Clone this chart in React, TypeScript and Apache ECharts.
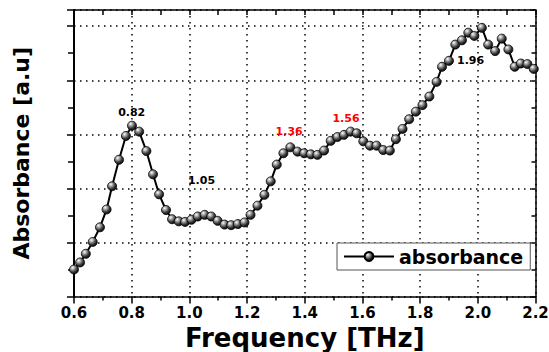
import React, { useEffect, useRef } from "react";
import * as echarts from "echarts";

const freq = [
  0.600, 0.621, 0.641, 0.665, 0.690, 0.713, 0.732, 0.756, 0.780, 0.801,
  0.826, 0.851, 0.874, 0.895, 0.919, 0.940, 0.963, 0.985, 1.007, 1.029,
  1.053, 1.076, 1.098, 1.122, 1.145, 1.168, 1.191, 1.212, 1.236, 1.260,
  1.282, 1.303, 1.326, 1.350, 1.375, 1.398, 1.421, 1.444, 1.467, 1.490,
  1.513, 1.536, 1.559, 1.580, 1.603, 1.626, 1.649, 1.672, 1.695, 1.716,
  1.739, 1.762, 1.785, 1.808, 1.832, 1.857, 1.876, 1.900, 1.922, 1.945,
  1.967, 1.988, 2.014, 2.036, 2.060, 2.083, 2.106, 2.128, 2.149, 2.172,
  2.194,
];

const absorbance = [
  0.50, 0.63, 0.79, 1.01, 1.28, 1.61, 2.04, 2.53, 2.97, 3.16,
  3.05, 2.69, 2.26, 1.89, 1.60, 1.43, 1.39, 1.38, 1.42, 1.48,
  1.51, 1.48, 1.40, 1.33, 1.32, 1.34, 1.37, 1.51, 1.68, 1.88,
  2.13, 2.44, 2.65, 2.76, 2.68, 2.65, 2.63, 2.62, 2.70, 2.88,
  2.95, 2.99, 3.05, 3.02, 2.87, 2.79, 2.79, 2.71, 2.70, 2.91,
  3.10, 3.28, 3.42, 3.54, 3.70, 3.97, 4.25, 4.36, 4.66, 4.74,
  4.88, 4.82, 4.97, 4.66, 4.54, 4.77, 4.57, 4.25, 4.31, 4.30,
  4.21,
];

const annotationLabels = ["0.82", "1.05", "1.36", "1.56", "1.96"];
const annotationX = [0.800, 1.042, 1.346, 1.543, 1.975];
const annotationY = [3.40, 2.14, 3.05, 3.30, 4.37];
const annotationColors = ["#000000", "#000000", "#ff0000", "#ff0000", "#000000"];

const xMin = 0.6;
const xMax = 2.2;
const xInterval = 0.2;
const yMin = 0;
const yMax = 5.3;
const yInterval = 1;

const FONT = "DejaVu Sans";

export default function App() {
  const ref = useRef<HTMLDivElement>(null);

  useEffect(() => {
    if (!ref.current) return;
    const chart = echarts.init(ref.current, null, { renderer: "svg" });

    const sphere = new echarts.graphic.RadialGradient(0.35, 0.3, 0.75, [
      { offset: 0, color: "#ffffff" },
      { offset: 0.25, color: "#b0b0b0" },
      { offset: 0.65, color: "#3a3a3a" },
      { offset: 1, color: "#050505" },
    ]);

    const dotted = { color: "#000", width: 1.5, type: [1.5, 4.5] as any };

    const option: any = {
      animation: false,
      backgroundColor: "#ffffff",
      grid: {
        left: 74,
        right: 13.5,
        top: 10,
        bottom: 55.5,
        containLabel: false,
        outerBoundsMode: "none",
      },
      legend: {
        data: ["absorbance"],
        left: 337,
        top: 243,
        orient: "horizontal",
        backgroundColor: "#ffffff",
        borderColor: "#555555",
        borderWidth: 1,
        padding: [4, 7, 4, 6],
        itemWidth: 50,
        itemHeight: 11,
        itemGap: 0,
        textStyle: {
          fontFamily: FONT,
          fontWeight: "bold",
          fontSize: 19,
          color: "#000",
        },
      },
      xAxis: [
        {
          type: "value",
          position: "bottom",
          min: xMin,
          max: xMax,
          interval: xInterval,
          name: "Frequency [THz]",
          nameLocation: "middle",
          nameGap: 26,
          nameTextStyle: { fontFamily: FONT, fontWeight: "bold", fontSize: 26, color: "#000" },
          axisLine: { show: true, onZero: false, lineStyle: { color: "#000", width: 1.5 } },
          axisTick: { show: true, inside: false, length: 7, lineStyle: { color: "#000", width: 1.5 } },
          minorTick: { show: true, splitNumber: 2, length: 4, lineStyle: { color: "#000", width: 1.5 } },
          axisLabel: {
            show: true,
            margin: 9,
            fontFamily: FONT,
            fontWeight: "bold",
            fontSize: 15,
            color: "#000",
            formatter: (v: number) => v.toFixed(1),
          },
          splitLine: { show: true, lineStyle: dotted },
        },
        {
          type: "value",
          position: "top",
          min: xMin,
          max: xMax,
          interval: xInterval,
          axisLine: { show: true, onZero: false, lineStyle: { color: "#000", width: 1.5 } },
          axisTick: { show: true, inside: true, length: 5, lineStyle: { color: "#000", width: 1.5 } },
          minorTick: { show: true, splitNumber: 2, length: 5, lineStyle: { color: "#000", width: 1.5 } },
          axisLabel: { show: false },
          splitLine: { show: false },
        },
      ],
      yAxis: [
        {
          type: "value",
          position: "left",
          min: yMin,
          max: yMax,
          interval: yInterval,
          name: "Absorbance [a.u]",
          nameLocation: "middle",
          nameGap: 42,
          nameTextStyle: { fontFamily: FONT, fontWeight: "bold", fontSize: 22, color: "#000" },
          axisLine: { show: true, onZero: false, lineStyle: { color: "#000", width: 2 } },
          axisTick: { show: true, inside: false, length: 7, lineStyle: { color: "#000", width: 1.5 } },
          minorTick: { show: true, splitNumber: 2, length: 6, lineStyle: { color: "#000", width: 1.5 } },
          axisLabel: { show: false },
          splitLine: { show: true, lineStyle: dotted },
        },
        {
          type: "value",
          position: "right",
          min: yMin,
          max: yMax,
          interval: yInterval,
          axisLine: { show: true, onZero: false, lineStyle: { color: "#000", width: 1.5 } },
          axisTick: { show: true, inside: true, length: 4, lineStyle: { color: "#000", width: 1.5 } },
          minorTick: { show: true, splitNumber: 2, length: 4, lineStyle: { color: "#000", width: 1.5 } },
          axisLabel: { show: false },
          splitLine: { show: false },
        },
      ],
      series: [
        {
          name: "absorbance",
          type: "line",
          xAxisIndex: 0,
          yAxisIndex: 0,
          data: freq.map((f, i) => [f, absorbance[i]]),
          symbol: "circle",
          symbolSize: 9,
          showSymbol: true,
          showAllSymbol: true,
          smooth: false,
          lineStyle: { color: "#000", width: 2 },
          itemStyle: { color: sphere, borderColor: "#000", borderWidth: 0.8 },
          emphasis: { disabled: true },
          markPoint: {
            symbol: "circle",
            symbolSize: 0,
            silent: true,
            data: annotationLabels.map((t, i) => ({
              name: t,
              coord: [annotationX[i], annotationY[i]],
              label: {
                show: true,
                position: "inside",
                formatter: t,
                fontFamily: FONT,
                fontWeight: "bold",
                fontSize: 11,
                color: annotationColors[i],
              },
            })),
          },
        },
      ],
    };

    chart.setOption(option);
    return () => chart.dispose();
  }, []);

  return (
    <div
      ref={ref}
      style={{ position: "fixed", left: 0, top: 0, width: 549, height: 352, background: "#fff" }}
    />
  );
}
